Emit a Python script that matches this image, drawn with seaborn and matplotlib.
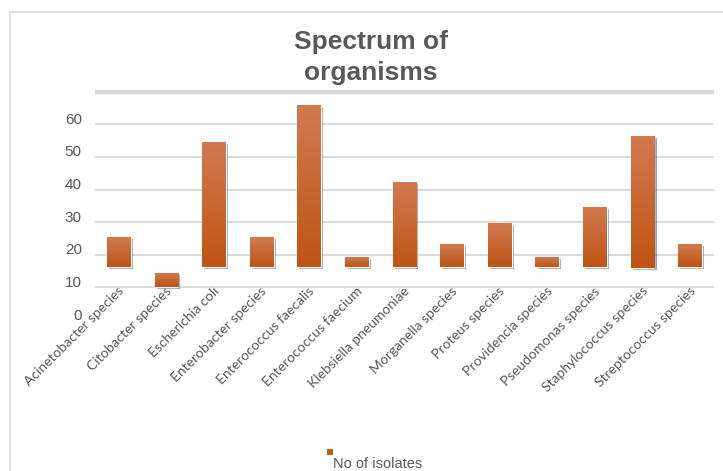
import numpy as np
import pandas as pd
import matplotlib
matplotlib.use("Agg")
import matplotlib.pyplot as plt
import matplotlib.patheffects as pe
from matplotlib.patches import Rectangle
from matplotlib.transforms import ScaledTranslation
import seaborn as sns

organisms = [
    "Acinetobacter species", "Citobacter species", "Escherichia coli",
    "Enterobacter species", "Enterococcus faecalis", "Enterococcus faecium",
    "Klebsiella pneumoniae", "Morganella species", "Proteus species",
    "Providencia species", "Pseudomonas species", "Staphylococcus species",
    "Streptococcus species",
]
# top of each bar on the value axis
isolates = [25.5, 14.5, 54.7, 25.5, 66.0, 19.2, 42.3, 23.4, 29.8, 19.2, 34.8, 56.5, 23.4]
# value at which each bar starts
bar_floor = [16.3, 10.0, 16.3, 16.3, 16.3, 16.3, 16.3, 16.3, 16.3, 16.3, 16.3, 16.0, 16.3]
y_ticks = [0, 10, 20, 30, 40, 50, 60, 70]
y_tick_labels = ["0", "10", "20", "30", "40", "50", "60", ""]
series_name = "No of isolates"
title_lines = ["Spectrum of", "organisms"]

sns.set_style("white")
SANS = ["Liberation Sans", "DejaVu Sans"]
plt.rcParams["font.family"] = SANS

W, H = 723, 471
DPI = 100
GREY_TXT = "#595959"
GRID = "#d9d9d9"
BAR = "#c55a11"

fig = plt.figure(figsize=(W / DPI, H / DPI), dpi=DPI)
fig.patch.set_facecolor("white")

y_top = 70.6
px_per_unit = 3.26
ax_bottom_px = 320
ax_top_px = ax_bottom_px - y_top * px_per_unit
ax = fig.add_axes([95 / W, (H - ax_bottom_px) / H, (714 - 95) / W,
                   (ax_bottom_px - ax_top_px) / H])

df = pd.DataFrame({
    "organism": organisms,
    "span": np.array(isolates) - np.array(bar_floor),
})
sns.barplot(data=df, x="organism", y="span", order=organisms, color=BAR,
            saturation=1, width=0.5, errorbar=None, bottom=bar_floor, ax=ax,
            zorder=3)

# vertical shading on each bar plus a soft drop shadow
top_c = np.array([0.82, 0.48, 0.31])
bot_c = np.array([0.75, 0.33, 0.08])
grad = np.linspace(0, 1, 128)[:, None, None]
img = bot_c[None, None, :] * (1 - grad) + top_c[None, None, :] * grad
for p in list(ax.patches):
    p.set_path_effects([pe.SimplePatchShadow(offset=(1.5, -1.5),
                                             shadow_rgbFace="#444444", alpha=0.5),
                        pe.Normal()])
    x0, y0, w, h = p.get_x(), p.get_y(), p.get_width(), p.get_height()
    im = ax.imshow(img, extent=[x0, x0 + w, y0, y0 + h], origin="lower",
                   aspect="auto", zorder=3.5, interpolation="bilinear")
    im.set_clip_path(p)

ax.set_xlim(-0.5, len(organisms) - 0.5)
ax.set_ylim(0, y_top)
ax.set_xlabel("")
ax.set_ylabel("")
for s in ax.spines.values():
    s.set_visible(False)

ax.set_yticks(y_ticks)
ax.set_yticklabels(y_tick_labels)
ax.grid(axis="y", color=GRID, lw=1.4)
ax.grid(axis="x", visible=False)
ax.set_axisbelow(True)
gl = ax.yaxis.get_gridlines()
gl[0].set_visible(False)
gl[-1].set_linewidth(3.2)
ax.tick_params(axis="both", length=0)
ax.tick_params(axis="y", pad=9.5, labelsize=11, labelcolor=GREY_TXT)

up = ScaledTranslation(0, 6 / DPI, fig.dpi_scale_trans)
for lab in ax.get_yticklabels():
    lab.set_transform(lab.get_transform() + up)

ax.set_xticks(range(len(organisms)))
ax.set_xticklabels(organisms, rotation=45, ha="right", va="center",
                   rotation_mode="anchor", color=GREY_TXT, fontsize=10,
                   family=["Lato", "DejaVu Sans"])
ax.tick_params(axis="x", pad=0)
shift = ScaledTranslation(3 / DPI, 31 / DPI, fig.dpi_scale_trans)
for lab in ax.get_xticklabels():
    lab.set_transform(lab.get_transform() + shift)

# title
fig.text(371 / W, (H - 42) / H, title_lines[0], ha="center", va="center",
         fontsize=19, fontweight="bold", color=GREY_TXT)
fig.text(371 / W, (H - 73) / H, title_lines[1], ha="center", va="center",
         fontsize=19, fontweight="bold", color=GREY_TXT)

# legend
fig.patches.append(Rectangle((327 / W, (H - 455) / H), 6 / W, 6 / H,
                             transform=fig.transFigure, facecolor=BAR,
                             edgecolor="none"))
fig.text(378 / W, (H - 457) / H, series_name, ha="center", va="top",
         fontsize=10.5, color=GREY_TXT)

# chart frame
fig.patches.append(Rectangle((9.5 / W, -0.2), 1.2, (H - 12) / H + 0.2,
                             transform=fig.transFigure, fill=False,
                             edgecolor="#d9d9d9", lw=1.2))

fig.savefig("out.png", dpi=DPI, facecolor="white")
